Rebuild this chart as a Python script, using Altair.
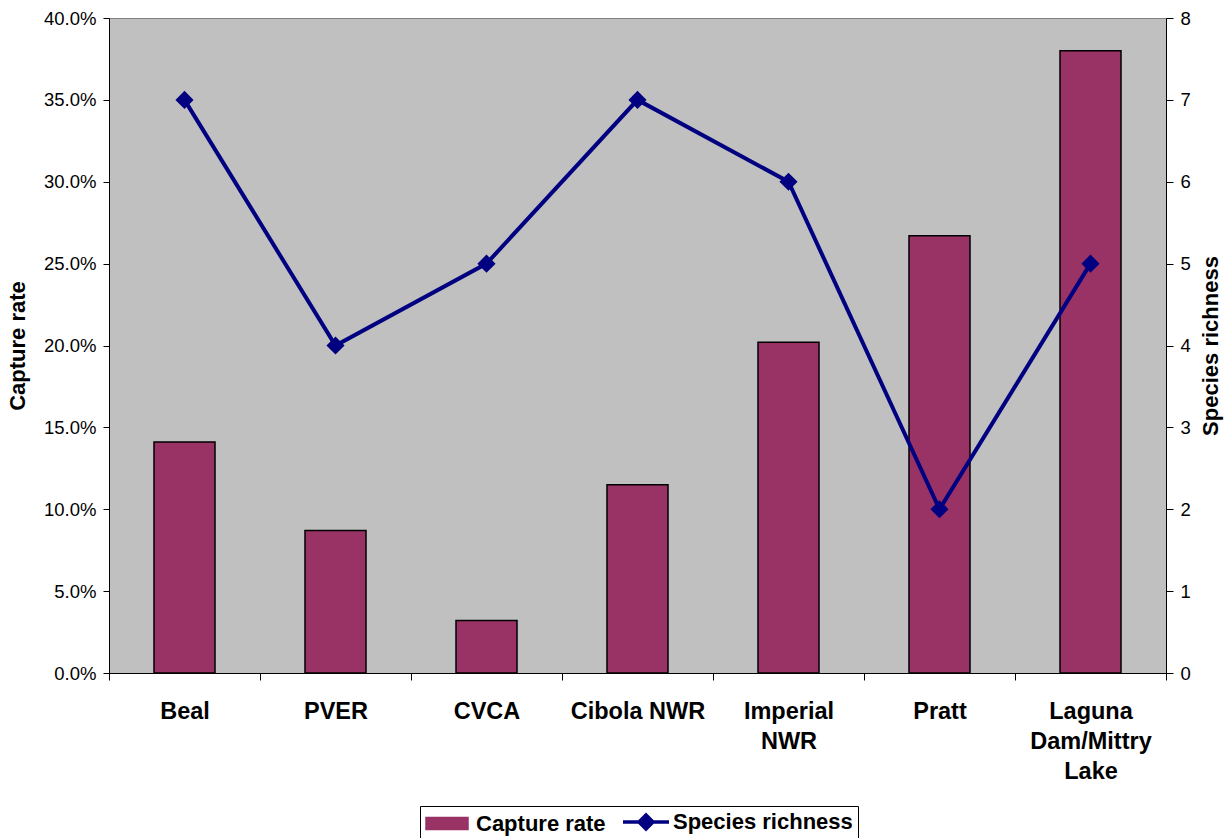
import altair as alt
import pandas as pd

# Survey sites; "|" marks where an axis label wraps onto a new line
sites = ["Beal", "PVER", "CVCA", "Cibola NWR", "Imperial|NWR", "Pratt", "Laguna|Dam/Mittry|Lake"]
capture_rate = [0.141, 0.087, 0.032, 0.115, 0.202, 0.267, 0.380]
species_richness = [7, 4, 5, 7, 6, 2, 5]

rate_ticks = [0.0, 0.05, 0.10, 0.15, 0.20, 0.25, 0.30, 0.35, 0.40]
richness_ticks = [0, 1, 2, 3, 4, 5, 6, 7, 8]
series_names = ["Capture rate", "Species richness"]

BAR_COLOR = "#993366"
LINE_COLOR = "#000080"
FONT = "Liberation Sans"

df = pd.DataFrame({"site": sites, "rate": capture_rate, "richness": species_richness})

x_enc = alt.X(
    "site:N",
    sort=sites,
    title=None,
    scale=alt.Scale(paddingInner=0, paddingOuter=0),
    axis=alt.Axis(
        labelExpr="split(datum.label, '|')",
        labelAngle=0,
        labelFont=FONT,
        labelFontSize=23.5,
        labelFontWeight="bold",
        labelColor="black",
        labelLineHeight=30,
        labelPadding=19,
        labelLimit=0,
        tickBand="extent",
        tickSize=7,
        tickColor="black",
        domainColor="black",
        grid=False,
    ),
)

# Legend swatches: a filled bar for the capture rate, a line with a diamond for richness
is_rate = "datum.value == 'Capture rate'"
legend = alt.Legend(
    orient="none",
    legendX=311,
    legendY=788,
    direction="horizontal",
    title=None,
    labelFont=FONT,
    labelFontSize=22,
    labelFontWeight="bold",
    labelColor="black",
    labelLimit=0,
    labelOffset=29,
    columnPadding=10,
    symbolSize=400,
    symbolType={
        "expr": f"{is_rate} ? 'M-1,-0.6L3.2,-0.6L3.2,0.6L-1,0.6Z' : "
        "'M-1,0L3.6,0M1.3,-0.7L2.0,0L1.3,0.7L0.6,0Z'"
    },
    symbolFillColor={"expr": f"{is_rate} ? '{BAR_COLOR}' : '{LINE_COLOR}'"},
    symbolStrokeColor={"expr": f"{is_rate} ? 'black' : '{LINE_COLOR}'"},
    symbolStrokeWidth={"expr": f"{is_rate} ? 1.5 : 3.5"},
    symbolOpacity=1,
    strokeColor="black",
    padding=5,
)

color_scale = alt.Scale(domain=series_names, range=[BAR_COLOR, LINE_COLOR])

bars = alt.Chart(df).transform_calculate(
    series=f"'{series_names[0]}'"
).mark_bar(
    width=alt.RelativeBandSize(0.404), stroke="black", strokeWidth=1.5
).encode(
    x=x_enc,
    y=alt.Y(
        "rate:Q",
        scale=alt.Scale(domain=[0, 0.4], nice=False),
        axis=alt.Axis(
            title="Capture rate",
            values=rate_ticks,
            format=".1%",
            orient="left",
            labelFont=FONT,
            labelFontSize=18.5,
            labelColor="black",
            labelPadding=7,
            tickSize=6,
            tickColor="black",
            domainColor="black",
            grid=False,
            titleFont=FONT,
            titleFontSize=22,
            titleFontWeight="bold",
            titleColor="black",
            titlePadding=14,
        ),
    ),
    color=alt.Color("series:N", scale=color_scale, legend=legend),
)

line = alt.Chart(df).transform_calculate(
    series=f"'{series_names[1]}'"
).mark_line(
    strokeWidth=4,
    point=alt.OverlayMarkDef(shape="diamond", size=330, filled=True, opacity=1),
).encode(
    x=x_enc,
    y=alt.Y(
        "richness:Q",
        scale=alt.Scale(domain=[0, 8], nice=False),
        axis=alt.Axis(
            title="Species richness",
            values=richness_ticks,
            format="d",
            orient="right",
            labelFont=FONT,
            labelFontSize=18.5,
            labelColor="black",
            labelPadding=7,
            tickSize=7,
            tickColor="black",
            domainColor="black",
            grid=False,
            titleFont=FONT,
            titleFontSize=22,
            titleFontWeight="bold",
            titleColor="black",
            titleAngle=270,
            titleBaseline="top",
            titlePadding=10,
        ),
    ),
    color=alt.Color("series:N", scale=color_scale, legend=legend),
)

chart = (
    alt.layer(bars, line)
    .resolve_scale(y="independent")
    .properties(
        width=1057,
        height=655,
        autosize=alt.AutoSizeParams(type="none"),
        padding={"left": 109, "top": 18, "right": 63, "bottom": 165},
        background="white",
    )
    .configure_view(fill="#c0c0c0", stroke="#808080", strokeWidth=1)
)

chart.save("out.html", embed_options={"renderer": "svg", "actions": False})
